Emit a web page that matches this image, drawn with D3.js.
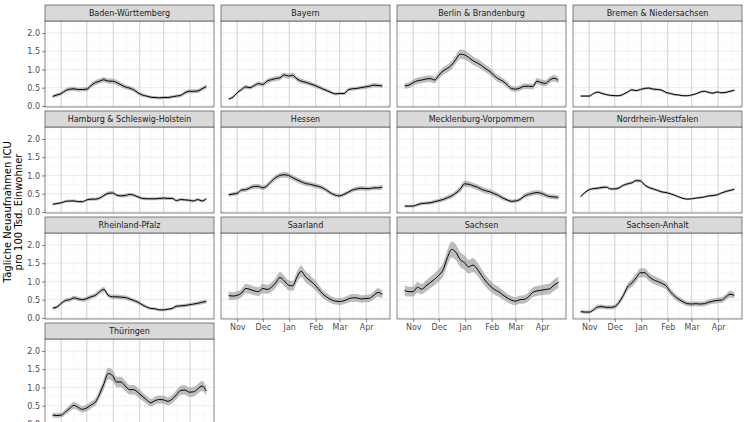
<!DOCTYPE html>
<html>
<head>
<meta charset="utf-8">
<script src="https://cdn.jsdelivr.net/npm/d3@7"></script>
<style>
  body { margin: 0; background: #fff; }
  text { font-family: "DejaVu Sans", sans-serif; }
</style>
</head>
<body>
<div id="chart"></div>
<script>
// values every 5 days, 22 Oct 2020 .. 20 Apr 2021
var dates = d3.timeDay.range(new Date(2020, 9, 22), new Date(2021, 3, 21), 5);

var states = ["Baden-Württemberg", "Bayern", "Berlin & Brandenburg", "Bremen & Niedersachsen",
  "Hamburg & Schleswig-Holstein", "Hessen", "Mecklenburg-Vorpommern", "Nordrhein-Westfalen",
  "Rheinland-Pfalz", "Saarland", "Sachsen", "Sachsen-Anhalt", "Thüringen"];

var bw  = [0.26,0.30,0.34,0.42,0.46,0.47,0.45,0.45,0.46,0.56,0.64,0.68,0.72,0.68,0.68,0.64,0.58,0.52,0.49,0.44,0.36,0.30,0.27,0.24,0.23,0.22,0.23,0.23,0.25,0.27,0.29,0.36,0.40,0.40,0.41,0.47,0.53];
var by  = [0.19,0.24,0.36,0.45,0.52,0.50,0.56,0.61,0.59,0.68,0.72,0.75,0.77,0.85,0.82,0.84,0.74,0.68,0.65,0.61,0.57,0.52,0.47,0.42,0.37,0.33,0.34,0.34,0.44,0.47,0.48,0.50,0.52,0.54,0.57,0.56,0.55];
var be  = [0.55,0.57,0.64,0.69,0.71,0.74,0.75,0.71,0.84,0.96,1.03,1.12,1.28,1.42,1.40,1.33,1.24,1.18,1.11,1.02,0.94,0.83,0.74,0.68,0.58,0.48,0.46,0.49,0.54,0.54,0.53,0.68,0.64,0.62,0.71,0.76,0.70];
var hb  = [0.27,0.27,0.27,0.34,0.38,0.34,0.31,0.29,0.28,0.28,0.32,0.38,0.44,0.42,0.45,0.48,0.49,0.46,0.45,0.43,0.37,0.34,0.31,0.30,0.28,0.28,0.30,0.33,0.38,0.40,0.37,0.35,0.38,0.36,0.37,0.40,0.43];
var hh  = [0.21,0.23,0.25,0.29,0.30,0.30,0.28,0.28,0.33,0.35,0.35,0.38,0.45,0.51,0.52,0.46,0.44,0.45,0.48,0.46,0.41,0.37,0.36,0.36,0.36,0.37,0.38,0.37,0.37,0.31,0.34,0.33,0.32,0.30,0.34,0.30,0.36];
var he  = [0.47,0.49,0.51,0.60,0.61,0.66,0.70,0.70,0.66,0.72,0.84,0.94,1.00,1.02,1.00,0.94,0.88,0.83,0.78,0.76,0.73,0.70,0.66,0.59,0.51,0.46,0.44,0.48,0.54,0.60,0.63,0.65,0.64,0.64,0.66,0.66,0.68];
var mv  = [0.16,0.16,0.16,0.20,0.23,0.24,0.25,0.28,0.31,0.34,0.39,0.44,0.52,0.62,0.77,0.76,0.72,0.68,0.62,0.58,0.55,0.50,0.45,0.38,0.33,0.29,0.30,0.34,0.43,0.48,0.51,0.53,0.51,0.46,0.42,0.41,0.40];
var nw  = [0.42,0.53,0.61,0.64,0.65,0.67,0.68,0.63,0.63,0.66,0.73,0.77,0.80,0.86,0.85,0.74,0.67,0.63,0.59,0.55,0.53,0.50,0.46,0.41,0.37,0.35,0.36,0.38,0.39,0.41,0.44,0.45,0.47,0.52,0.56,0.59,0.62];
var rp  = [0.27,0.30,0.40,0.48,0.50,0.55,0.52,0.50,0.53,0.58,0.62,0.72,0.78,0.62,0.58,0.58,0.57,0.56,0.52,0.48,0.43,0.36,0.30,0.26,0.25,0.22,0.22,0.24,0.26,0.32,0.33,0.34,0.36,0.38,0.40,0.43,0.45];
var sl  = [0.61,0.60,0.62,0.68,0.81,0.78,0.74,0.72,0.81,0.78,0.84,0.96,1.11,1.02,0.90,0.88,1.12,1.28,1.13,1.03,0.93,0.80,0.66,0.57,0.50,0.46,0.45,0.47,0.52,0.55,0.55,0.52,0.53,0.54,0.62,0.70,0.64];
var sn  = [0.75,0.72,0.72,0.84,0.79,0.88,0.97,1.06,1.17,1.32,1.65,1.88,1.80,1.60,1.52,1.40,1.45,1.34,1.17,1.01,0.88,0.78,0.72,0.63,0.55,0.49,0.46,0.50,0.51,0.58,0.70,0.74,0.76,0.78,0.80,0.90,0.97];
var st  = [0.17,0.16,0.16,0.22,0.30,0.31,0.29,0.29,0.31,0.43,0.62,0.85,0.96,1.10,1.24,1.24,1.13,1.05,1.00,0.95,0.88,0.72,0.60,0.51,0.44,0.39,0.38,0.39,0.38,0.39,0.43,0.46,0.48,0.49,0.57,0.65,0.62];
var th  = [0.24,0.23,0.24,0.33,0.43,0.51,0.45,0.40,0.44,0.52,0.60,0.82,1.10,1.38,1.33,1.15,1.15,1.04,0.94,0.94,0.86,0.76,0.66,0.58,0.64,0.67,0.66,0.62,0.68,0.80,0.92,0.93,0.87,0.88,0.96,1.04,0.90];

var series = [bw, by, be, hb, hh, he, mv, nw, rp, sl, sn, st, th];
// confidence band half-width at value 1.0, per state
var ciWidth = [0.085, 0.075, 0.105, 0.055, 0.07, 0.075, 0.095, 0.048, 0.08, 0.14, 0.16, 0.11, 0.135];

var yTicks = [0, 0.5, 1, 1.5, 2];
var yMinor = [0.25, 0.75, 1.25, 1.75, 2.25];
var monthTicks = [new Date(2020,10,1), new Date(2020,11,1), new Date(2021,0,1),
                  new Date(2021,1,1), new Date(2021,2,1), new Date(2021,3,1)];
var monthMinor = [new Date(2020,9,16), new Date(2020,10,16), new Date(2020,11,16), new Date(2021,0,16),
                  new Date(2021,1,15), new Date(2021,2,16), new Date(2021,3,16)];
var monthNames = ["Nov", "Dec", "Jan", "Feb", "Mar", "Apr"];

var W = 750, H = 422;
var ncol = 4;
var colX = [45, 221, 397, 573];
var pw = 169, stripH = 16, ph = 86, rowPitch = 106, top0 = 5;

var svg = d3.select("#chart").append("svg")
  .attr("width", W).attr("height", H);

var x = d3.scaleTime()
  .domain([new Date(2020, 9, 13), new Date(2021, 3, 29)])
  .range([0, pw]);
var y = d3.scaleLinear().domain([-0.03, 2.33]).range([ph, 0]);

var line = d3.line()
  .x(function(d){ return x(d.date); })
  .y(function(d){ return y(d.v); })
  .curve(d3.curveMonotoneX);
var area = d3.area()
  .x(function(d){ return x(d.date); })
  .y0(function(d){ return y(d.v - d.hw); })
  .y1(function(d){ return y(d.v + d.hw); })
  .curve(d3.curveMonotoneX);

states.forEach(function(name, i){
  var col = i % ncol, row = Math.floor(i / ncol);
  var px = colX[col], sy = top0 + row * rowPitch, py = sy + stripH;
  var g = svg.append("g").attr("transform", "translate(" + px + "," + py + ")");

  var pts = dates.map(function(dt, j){
    var v = series[i][j];
    return {date: dt, v: v, hw: ciWidth[i] * Math.sqrt(v)};
  });

  g.append("rect").attr("width", pw).attr("height", ph).attr("fill", "#fff");

  // grid
  g.selectAll(".ym").data(yMinor).enter().append("line")
    .attr("x1", 0).attr("x2", pw)
    .attr("y1", function(d){ return y(d); }).attr("y2", function(d){ return y(d); })
    .attr("stroke", "#f0f0f0").attr("stroke-width", 0.5);
  g.selectAll(".xm").data(monthMinor).enter().append("line")
    .attr("y1", 0).attr("y2", ph)
    .attr("x1", function(d){ return x(d); }).attr("x2", function(d){ return x(d); })
    .attr("stroke", "#f0f0f0").attr("stroke-width", 0.5);
  g.selectAll(".yM").data(yTicks).enter().append("line")
    .attr("x1", 0).attr("x2", pw)
    .attr("y1", function(d){ return y(d); }).attr("y2", function(d){ return y(d); })
    .attr("stroke", "#e6e6e6").attr("stroke-width", 0.8);
  g.selectAll(".xM").data(monthTicks).enter().append("line")
    .attr("y1", 0).attr("y2", ph)
    .attr("x1", function(d){ return x(d); }).attr("x2", function(d){ return x(d); })
    .attr("stroke", "#c6c6c6").attr("stroke-width", 0.8);

  g.append("path").datum(pts).attr("d", area)
    .attr("fill", "#999").attr("fill-opacity", 0.65);
  g.append("path").datum(pts).attr("d", line)
    .attr("fill", "none").attr("stroke", "#000").attr("stroke-width", 1);

  g.append("rect").attr("width", pw).attr("height", ph)
    .attr("fill", "none").attr("stroke", "#333").attr("stroke-width", 0.6);

  // strip
  svg.append("rect").attr("x", px).attr("y", sy).attr("width", pw).attr("height", stripH)
    .attr("fill", "#d9d9d9").attr("stroke", "#333").attr("stroke-width", 0.6);
  svg.append("text").attr("x", px + pw / 2).attr("y", sy + stripH / 2 + 3)
    .attr("text-anchor", "middle").attr("font-size", 8).attr("fill", "#1a1a1a")
    .text(name);

  // y axis on first column
  if (col === 0) {
    var ya = g.append("g").call(d3.axisLeft(y).tickValues(yTicks)
      .tickFormat(d3.format(".1f")).tickSize(3).tickPadding(2));
    ya.select(".domain").remove();
    ya.selectAll("line").attr("stroke", "#333").attr("stroke-width", 0.6);
    ya.selectAll("text").attr("font-size", 8).attr("fill", "#4d4d4d")
      .attr("font-family", "DejaVu Sans");
  }
  // x axis on the lowest panel of each column (the last row lies below the picture)
  if (i + ncol >= states.length && py + ph < H) {
    var xa = g.append("g").attr("transform", "translate(0," + ph + ")")
      .call(d3.axisBottom(x).tickValues(monthTicks)
        .tickFormat(function(d, k){ return monthNames[k]; }).tickSize(3).tickPadding(2));
    xa.select(".domain").remove();
    xa.selectAll("line").attr("stroke", "#333").attr("stroke-width", 0.6);
    xa.selectAll("text").attr("font-size", 8).attr("fill", "#4d4d4d")
      .attr("font-family", "DejaVu Sans");
  }
});

// y axis title
var yt = svg.append("text")
  .attr("transform", "translate(11,212) rotate(-90)")
  .attr("text-anchor", "middle").attr("font-size", 10).attr("fill", "#000");
yt.append("tspan").attr("x", 0).attr("dy", 0).text("Tägliche Neuaufnahmen ICU");
yt.append("tspan").attr("x", 0).attr("dy", 11).text("pro 100 Tsd. Einwohner");
</script>
</body>
</html>
